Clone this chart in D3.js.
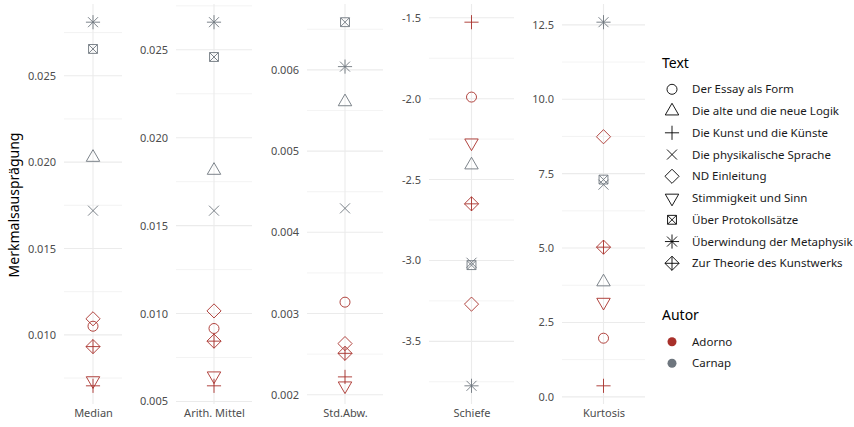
<!DOCTYPE html>
<html>
<head>
<meta charset="utf-8">
<script src="https://cdn.jsdelivr.net/npm/d3@7"></script>
<style>
  html, body { margin: 0; padding: 0; background: #fff; }
  svg { display: block; font-family: "Noto Sans", sans-serif; }
</style>
</head>
<body>
<svg id="chart" width="854" height="427"></svg>
<script>
// Texts, their authors and point shapes (same order throughout)
const texts = [
  "Der Essay als Form",
  "Die alte und die neue Logik",
  "Die Kunst und die Künste",
  "Die physikalische Sprache",
  "ND Einleitung",
  "Stimmigkeit und Sinn",
  "Über Protokollsätze",
  "Überwindung der Metaphysik",
  "Zur Theorie des Kunstwerks"
];
const authors = ["Adorno", "Carnap", "Adorno", "Carnap", "Adorno", "Adorno", "Carnap", "Carnap", "Adorno"];
const shapes = ["circle", "triangle", "plus", "cross", "diamond", "triangleDown", "squareCross", "asterisk", "diamondPlus"];

const authorNames = ["Adorno", "Carnap"];
const authorColors = ["#A8302A", "#6E767E"];

// Statistics (facets)
const statNames = ["Median", "Arith. Mittel", "Std.Abw.", "Schiefe", "Kurtosis"];
const medianValues = [0.0105, 0.02027, 0.00705, 0.01719, 0.01093, 0.00735, 0.02655, 0.0281, 0.00932];
const meanValues = [0.00915, 0.01814, 0.00589, 0.01585, 0.01015, 0.00646, 0.02459, 0.02657, 0.00843];
const sdValues = [0.00314, 0.005606, 0.00222, 0.004295, 0.00263, 0.00211, 0.006587, 0.00604, 0.00251];
const skewValues = [-1.99, -2.41, -1.527, -3.014, -3.27, -2.273, -3.029, -3.775, -2.65];
const kurtValues = [1.97, 3.86, 0.37, 7.13, 8.74, 3.18, 7.30, 12.59, 5.03];

// Tick labels per facet
const medianTicks = ["0.010", "0.015", "0.020", "0.025"];
const meanTicks = ["0.005", "0.010", "0.015", "0.020", "0.025"];
const sdTicks = ["0.002", "0.003", "0.004", "0.005", "0.006"];
const skewTicks = ["-3.5", "-3.0", "-2.5", "-2.0", "-1.5"];
const kurtTicks = ["0.0", "2.5", "5.0", "7.5", "10.0", "12.5"];

const statValues = [medianValues, meanValues, sdValues, skewValues, kurtValues];
const statTicks = [medianTicks, meanTicks, sdTicks, skewTicks, kurtTicks];

// Layout
const panelX = [[64, 122], [176, 252], [307, 383], [429, 514], [562, 645]];
const panelTop = 4, panelBottom = 404;
const gridColor = "#EBEBEB";
const textGrey = "#4D4D4D";

const svg = d3.select("#chart");
const color = d3.scaleOrdinal().domain(authorNames).range(authorColors);

// Symbol geometry after R's plotting characters
const R = 5;
const S2 = Math.SQRT2;
function shapePath(shape) {
  const p = d3.path();
  const seg = (x1, y1, x2, y2) => { p.moveTo(x1, y1); p.lineTo(x2, y2); };
  const tr = 1.5551 * R, txc = 1.3468 * R, tyc = 0.7776 * R;
  switch (shape) {
    case "circle":
      p.moveTo(R, 0); p.arc(0, 0, R, 0, 2 * Math.PI); break;
    case "triangle":
      p.moveTo(0, -tr); p.lineTo(txc, tyc); p.lineTo(-txc, tyc); p.closePath(); break;
    case "triangleDown":
      p.moveTo(0, tr); p.lineTo(txc, -tyc); p.lineTo(-txc, -tyc); p.closePath(); break;
    case "plus":
      seg(-S2 * R, 0, S2 * R, 0); seg(0, -S2 * R, 0, S2 * R); break;
    case "cross":
      seg(-R, -R, R, R); seg(-R, R, R, -R); break;
    case "diamond": {
      const h = S2 * R;
      p.moveTo(0, -h); p.lineTo(h, 0); p.lineTo(0, h); p.lineTo(-h, 0); p.closePath(); break;
    }
    case "squareCross": {
      const h = 0.886 * R;
      p.rect(-h, -h, 2 * h, 2 * h); seg(-h, -h, h, h); seg(-h, h, h, -h); break;
    }
    case "asterisk":
      seg(-S2 * R, 0, S2 * R, 0); seg(0, -S2 * R, 0, S2 * R);
      seg(-R, -R, R, R); seg(-R, R, R, -R); break;
    case "diamondPlus": {
      const h = S2 * R;
      p.moveTo(0, -h); p.lineTo(h, 0); p.lineTo(0, h); p.lineTo(-h, 0); p.closePath();
      seg(-h, 0, h, 0); seg(0, -h, 0, h); break;
    }
  }
  return p.toString();
}

// Facets
statNames.forEach((stat, i) => {
  const vals = statValues[i];
  const ticks = statTicks[i].map(Number);
  const [x0, x1] = panelX[i];

  const ext = d3.extent(vals);
  const pad = (ext[1] - ext[0]) * 0.05;
  const y = d3.scaleLinear().domain([ext[0] - pad, ext[1] + pad]).range([panelBottom, panelTop]);
  const x = d3.scalePoint().domain([stat]).range([x0, x1]).padding(0.5);

  const g = svg.append("g");

  // minor grid lines halfway between the major breaks
  const step = ticks[1] - ticks[0];
  const minor = [];
  for (let v = ticks[0] - step / 2; v <= y.domain()[1]; v += step) {
    if (v >= y.domain()[0]) minor.push(v);
  }
  g.selectAll("line.minor").data(minor).join("line")
    .attr("x1", x0).attr("x2", x1)
    .attr("y1", d => y(d)).attr("y2", d => y(d))
    .attr("stroke", gridColor).attr("stroke-width", 0.6);

  g.selectAll("line.major").data(ticks).join("line")
    .attr("x1", x0).attr("x2", x1)
    .attr("y1", d => y(d)).attr("y2", d => y(d))
    .attr("stroke", gridColor).attr("stroke-width", 1.1);

  g.append("line")
    .attr("x1", x(stat)).attr("x2", x(stat))
    .attr("y1", panelTop).attr("y2", panelBottom)
    .attr("stroke", gridColor).attr("stroke-width", 1.1);

  // y axis labels
  const yAxis = d3.axisLeft(y).tickValues(ticks).tickFormat((d, k) => statTicks[i][k]).tickSize(0).tickPadding(8);
  const ya = g.append("g").attr("transform", `translate(${x0},0)`).call(yAxis);
  ya.select(".domain").remove();
  ya.selectAll("text").attr("fill", textGrey).style("font-size", "11px").style("font-family", "Noto Sans");

  // x axis (category) label
  const xAxis = d3.axisBottom(x).tickSize(0).tickPadding(5);
  const xa = g.append("g").attr("transform", `translate(0,${panelBottom})`).call(xAxis);
  xa.select(".domain").remove();
  xa.selectAll("text").attr("fill", textGrey).style("font-size", "11px").style("font-family", "Noto Sans");

  // points
  g.selectAll("path.pt").data(vals).join("path")
    .attr("class", "pt")
    .attr("transform", d => `translate(${x(stat)},${y(d)})`)
    .attr("d", (d, k) => shapePath(shapes[k]))
    .attr("fill", "none")
    .attr("stroke", (d, k) => color(authors[k]))
    .attr("stroke-width", 0.9);
});

// y axis title
svg.append("text")
  .attr("transform", "translate(19,205) rotate(-90)")
  .attr("text-anchor", "middle")
  .style("font-size", "14px")
  .attr("fill", "#000")
  .text("Merkmalsausprägung");

// Legend: texts (shapes)
const lg = svg.append("g");
lg.append("text").attr("x", 662).attr("y", 68).style("font-size", "14px").attr("fill", "#000").text("Text");
const keyStep = 21.75, keyY0 = 89.3, keyX = 672, labelX = 692;
texts.forEach((t, k) => {
  const cy = keyY0 + k * keyStep;
  lg.append("path")
    .attr("transform", `translate(${keyX},${cy})`)
    .attr("d", shapePath(shapes[k]))
    .attr("fill", "none").attr("stroke", "#000").attr("stroke-width", 0.9);
  lg.append("text").attr("x", labelX).attr("y", cy + 4)
    .style("font-size", "11.5px").attr("fill", "#1a1a1a").text(t);
});

// Legend: authors (colours)
lg.append("text").attr("x", 662).attr("y", 320).style("font-size", "14px").attr("fill", "#000").text("Autor");
authorNames.forEach((a, k) => {
  const cy = 341.7 + k * 21.6;
  lg.append("circle").attr("cx", keyX).attr("cy", cy).attr("r", 4.5).attr("fill", color(a));
  lg.append("text").attr("x", labelX).attr("y", cy + 4)
    .style("font-size", "11.5px").attr("fill", "#1a1a1a").text(a);
});
</script>
</body>
</html>
